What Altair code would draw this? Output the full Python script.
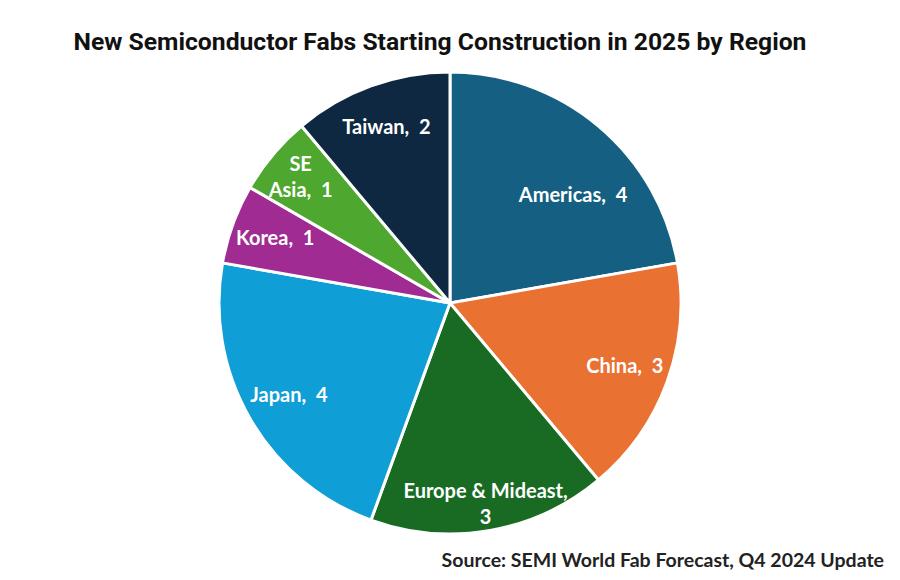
import altair as alt
import pandas as pd

regions = ["Americas", "China", "Europe & Mideast", "Japan", "Korea", "SE Asia", "Taiwan"]
values = [4, 3, 3, 4, 1, 1, 2]
labels = ["Americas,\u00a0 4", "China,\u00a0 3", "Europe & Mideast,\n3", "Japan,\u00a0 4",
          "Korea,\u00a0 1", "SE\nAsia,\u00a0 1", "Taiwan,\u00a0 2"]
colors = ["#156082", "#E97132", "#196B24", "#0F9ED5", "#A02B93", "#4EA72E", "#0E2841"]

title_text = "New Semiconductor Fabs Starting Construction in 2025 by Region"
source_text = "Source: SEMI World Fab Forecast, Q4 2024 Update"

df = pd.DataFrame({
    "region": regions,
    "value": values,
    "label": labels,
    "order": list(range(len(regions))),
})

CX, CY = 442, 295
R = 231

pie = alt.Chart(df).mark_arc(outerRadius=R, stroke="white", strokeWidth=3).encode(
    theta=alt.Theta("value:Q", stack=True),
    order=alt.Order("order:Q", sort="ascending"),
    color=alt.Color("region:N", scale=alt.Scale(domain=regions, range=colors), legend=None),
    x=alt.value(CX),
    y=alt.value(CY),
)

label_base = alt.Chart(df).transform_window(
    cum="sum(value)", sort=[alt.SortField("order", order="ascending")]
).transform_calculate(
    mid="datum.cum - datum.value / 2 + (datum.region == 'Americas' ? 0.45 : 0)",
    lr="datum.region == 'Americas' ? 163 : (datum.region == 'Europe & Mideast' ? 205 : (datum.region == 'SE Asia' ? 195 : 186))",
    multi="indexof(datum.label, '\\n') >= 0",
).encode(
    theta=alt.Theta("mid:Q", stack=None),
    radius=alt.Radius("lr:Q", scale=None),
    text="label:N",
    x=alt.value(CX),
    y=alt.value(CY),
)

text_style = dict(font="Lato", fontWeight="bold", fontSize=20, color="white",
                  lineBreak="\n", align="center", baseline="middle", lineHeight=26.5)

single = label_base.transform_filter("!datum.multi").mark_text(**text_style)
multi = label_base.transform_filter("datum.multi").mark_text(dy=-13, **text_style)

title = alt.Chart(pd.DataFrame({"t": [title_text]})).mark_text(
    font="Roboto", fontWeight="bold", fontSize=24.7, color="#111111",
    align="center", baseline="middle",
).encode(text="t:N", x=alt.value(432), y=alt.value(35))

source = alt.Chart(pd.DataFrame({"t": [source_text]})).mark_text(
    font="Lato", fontWeight="bold", fontSize=19.5, color="#222222",
    align="right", baseline="middle",
).encode(text="t:N", x=alt.value(876), y=alt.value(553))

chart = alt.layer(pie, single, multi, title, source).properties(
    width=884, height=564, padding=0
).configure_view(stroke=None)

chart.save("out.html", embed_options={"renderer": "svg", "actions": False})
